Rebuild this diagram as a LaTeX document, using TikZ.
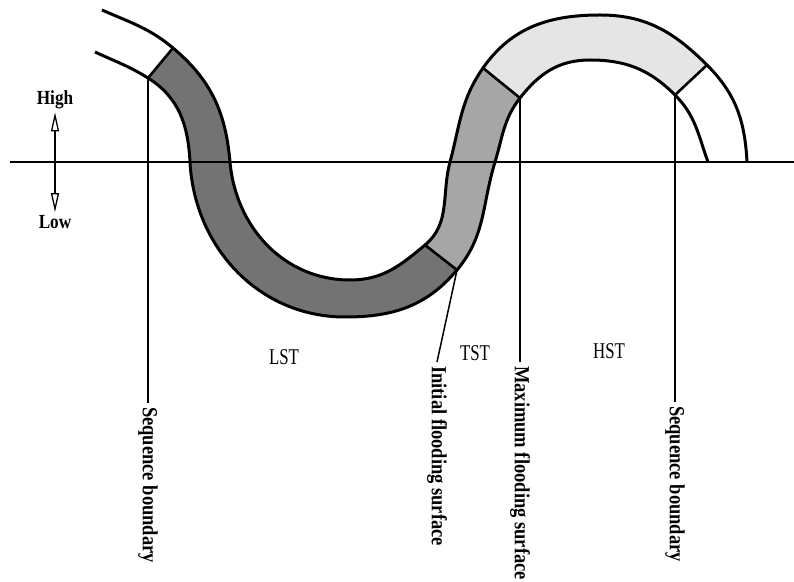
\documentclass[tikz,border=0pt]{standalone}
\usepackage{fontspec}
\setmainfont{Liberation Serif}
\newfontfamily\tagfont[FakeStretch=0.86]{Liberation Serif Bold}
\newfontfamily\tractfont[FakeStretch=0.75]{Liberation Serif}
\usepackage{tikz}
\usetikzlibrary{arrows.meta}
\colorlet{lstfill}{black!55}
\colorlet{tstfill}{black!35}
\colorlet{hstfill}{black!10}
\tikzset{
    band/.style={line width=3pt, line join=round},
    axisline/.style={line width=2.3pt},
    surface/.style={line width=2.6pt},
    leader/.style={line width=1.5pt},
    levelarrow/.style={line width=1.3pt, {Triangle[open, length=19pt, width=8pt, line width=1.3pt]}-{Triangle[open, length=19pt, width=8pt, line width=1.3pt]}},
    surfacelabel/.style={rotate=-90, anchor=west, inner sep=4pt, font=\tagfont\fontsize{21.5}{25}\selectfont},
    levellabel/.style={inner sep=3pt, font=\tagfont\fontsize{20}{23}\selectfont},
    tractlabel/.style={font=\tractfont\fontsize{22.5}{26}\selectfont}
}

\begin{document}
\begin{tikzpicture}[x=1pt, y=1pt]
    \useasboundingbox (0,0) rectangle (794,581);

    % sea level line
    \coordinate (axl) at (10,419);
    \coordinate (axr) at (794,419);

    % upper edge of the band (inner side of the trough, outer side of the crest)
    \coordinate (a0) at (102,571);
    \coordinate (a1) at (173,533);
    \coordinate (a2) at (230,419);
    \coordinate (a3) at (350,301);
    \coordinate (a4) at (425,336);
    \coordinate (a5) at (450,419);
    \coordinate (a6) at (483,513);
    \coordinate (a7) at (600,566);
    \coordinate (a8) at (707,516);
    \coordinate (a9) at (747,419);

    % lower edge of the band
    \coordinate (b0) at (95,529);
    \coordinate (b1) at (148,503);
    \coordinate (b2) at (190,419);
    \coordinate (b3) at (345,264);
    \coordinate (b4) at (457,311);
    \coordinate (b5) at (495,419);
    \coordinate (b6) at (520,483);
    \coordinate (b7) at (590,521);
    \coordinate (b8) at (675,486);
    \coordinate (b9) at (708,419);

    % systems tracts
    \fill[lstfill] (a1) to[out=-40,in=95] (a2) to[out=-85,in=180] (a3) to[out=0,in=-140] (a4)
        -- (b4) to[out=-130,in=0] (b3) to[out=180,in=-87] (b2) to[out=93,in=-32] (b1) -- cycle;
    \fill[tstfill] (a4) to[out=40,in=-105] (a5) to[out=75,in=-125] (a6)
        -- (b6) to[out=-128,in=73] (b5) to[out=-107,in=50] (b4) -- cycle;
    \fill[hstfill] (a6) to[out=55,in=180] (a7) to[out=0,in=135] (a8)
        -- (b8) to[out=135,in=0] (b7) to[out=180,in=52] (b6) -- cycle;

    \draw[axisline] (axl) -- (axr);

    % band edges
    \draw[band] (a0) to[out=-24,in=140] (a1) to[out=-40,in=95] (a2) to[out=-85,in=180] (a3)
        to[out=0,in=-140] (a4) to[out=40,in=-105] (a5) to[out=75,in=-125] (a6)
        to[out=55,in=180] (a7) to[out=0,in=135] (a8) to[out=-45,in=93] (a9);
    \draw[band] (b0) to[out=-25,in=148] (b1) to[out=-32,in=93] (b2) to[out=-87,in=180] (b3)
        to[out=0,in=-130] (b4) to[out=50,in=-107] (b5) to[out=73,in=-128] (b6)
        to[out=52,in=180] (b7) to[out=0,in=135] (b8) to[out=-45,in=110] (b9);

    % surfaces across the band
    \foreach \p/\q in {a1/b1, a4/b4, a6/b6, a8/b8}
        \draw[surface] (\p) -- (\q);

    % surface labels
    \node[surfacelabel] (sb1) at (148,178) {Sequence boundary};
    \node[surfacelabel] (ifs) at (437,219) {Initial flooding surface};
    \node[surfacelabel] (mfs) at (520,219) {Maximum flooding surface};
    \node[surfacelabel] (sb2) at (675,179) {Sequence boundary};
    \foreach \p/\q in {b1/sb1, b4/ifs, b6/mfs, b8/sb2}
        \draw[leader] (\p) -- (\q.west);

    \node[tractlabel] (lst) at (284,224) {LST};
    \node[tractlabel] (tst) at (475,228) {TST};
    \node[tractlabel] (hst) at (609,230) {HST};

    % relative sea level
    \node[levellabel] (high) at (55,481) {High};
    \node[levellabel] (low) at (55,359) {Low};
    \draw[levelarrow] (low) -- (high);
\end{tikzpicture}
\end{document}
